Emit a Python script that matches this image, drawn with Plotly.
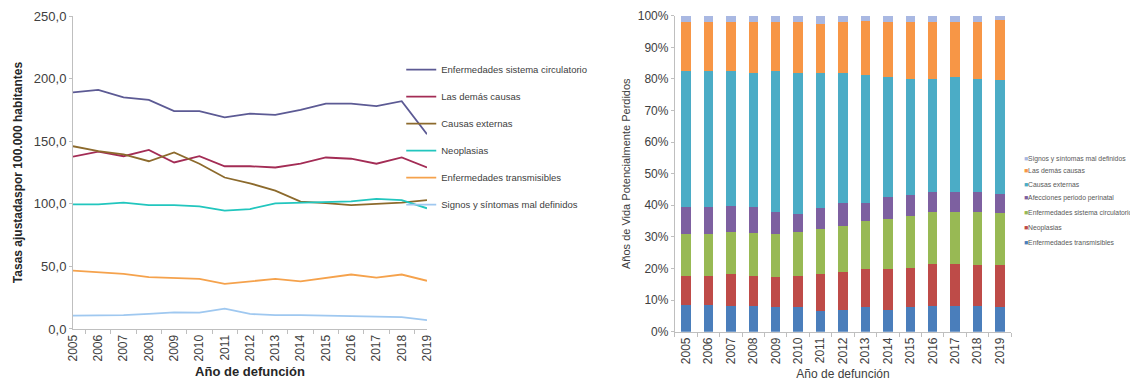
import plotly.graph_objects as go

years = [str(y) for y in range(2005, 2020)]

# Left chart: adjusted rates per 100.000 inhabitants
circulatorio = [189, 191, 185, 183, 174, 174, 169, 172, 171, 175, 180, 180, 178, 182, 155.5]
demas_causas = [137.6, 141.6, 138, 143, 133, 138, 130, 130, 129, 132, 137, 136, 132, 137, 129]
causas_externas = [146, 142, 139.5, 134, 141, 132, 121, 116.4, 110.5, 101.7, 100.5, 99, 100, 101, 103]
neoplasias = [99.5, 99.5, 101, 99, 99, 98, 94.5, 95.8, 100.4, 101, 101.5, 102, 104, 103, 96.4]
transmisibles = [46.6, 45, 44, 41.5, 41, 40, 36, 38, 40, 38, 41, 43.5, 41, 43.5, 38.5]
signos = [10.7, 10.7, 11, 12, 13.3, 13, 16.3, 12, 11, 11, 10.7, 10.3, 10, 9.5, 7]

left_names = ["Enfermedades sistema circulatorio", "Las demás causas", "Causas externas",
              "Neoplasias", "Enfermedades transmisibles", "Signos y síntomas mal definidos"]
left_series = [circulatorio, demas_causas, causas_externas, neoplasias, transmisibles, signos]
left_colors = ["#5c5a94", "#a32c55", "#8c6a2c", "#22c6be", "#f5a24c", "#9fc8f0"]

# Right chart: % of potential years of life lost (stack bottom -> top)
avpp_transmisibles = [8.4, 8.4, 8.2, 8.0, 7.7, 7.7, 6.6, 6.8, 7.7, 6.8, 7.7, 8.0, 8.0, 8.0, 7.7]
avpp_neoplasias = [9.3, 9.3, 10.0, 9.7, 9.7, 10.0, 11.6, 12.0, 12.1, 13.0, 12.6, 13.5, 13.5, 13.2, 13.5]
avpp_circulatorio = [13.2, 13.2, 13.2, 13.4, 13.5, 13.7, 14.3, 14.7, 15.1, 15.8, 16.4, 16.5, 16.5, 16.8, 16.4]
avpp_perinatal = [8.7, 8.7, 8.5, 8.5, 6.9, 6.0, 6.5, 7.1, 5.9, 6.9, 6.6, 6.1, 6.1, 6.1, 6.0]
avpp_externas = [42.9, 42.9, 42.6, 42.3, 44.7, 44.5, 42.9, 41.3, 40.4, 38.0, 36.7, 35.9, 36.6, 35.9, 36.0]
avpp_demas = [15.6, 15.6, 15.6, 16.2, 15.6, 16.2, 15.5, 16.0, 17.1, 17.6, 18.1, 18.1, 17.4, 18.1, 19.0]
avpp_signos = [1.9, 1.9, 1.9, 1.9, 1.9, 1.9, 2.6, 2.1, 1.7, 1.9, 1.9, 1.9, 1.9, 1.9, 1.4]

right_names = ["Enfermedades transmisibles", "Neoplasias", "Enfermedades sistema circulatorio",
               "Afecciones periodo perinatal", "Causas externas", "Las demás causas",
               "Signos y síntomas mal definidos"]
right_series = [avpp_transmisibles, avpp_neoplasias, avpp_circulatorio, avpp_perinatal,
                avpp_externas, avpp_demas, avpp_signos]
right_colors = ["#4a7ebb", "#be4b48", "#98b954", "#7d60a0", "#4bacc6", "#f79646", "#a9b8e2"]

pct_ticks = list(range(0, 101, 10))
pct_labels = [f"{v}%" for v in pct_ticks]

FONT = "Liberation Sans, Arial, sans-serif"
AXIS_GRAY = "#bfbfbf"

# compact key of the right chart (bottom entry first), paper y of each row
key_rows_y = [0.3824, 0.4203, 0.4613, 0.4992, 0.5361, 0.5718, 0.6026]

fig = go.Figure()

for i, (name, vals, col) in enumerate(zip(left_names, left_series, left_colors)):
    fig.add_trace(go.Scatter(
        x=years, y=vals, name=name, mode="lines",
        line=dict(color=col, width=1.8),
        xaxis="x", yaxis="y", legend="legend", legendgroup=f"l{i}",
    ))

for name, vals, col in zip(right_names, right_series, right_colors):
    fig.add_trace(go.Bar(
        x=years, y=vals, name=name, marker=dict(color=col, line=dict(width=0)),
        xaxis="x2", yaxis="y2", showlegend=False,
    ))

annotations = [
    dict(text="<b>Tasas ajustadaspor 100.000 habitantes</b>", xref="paper", yref="paper",
         x=0.00885, y=0.568, textangle=-90, showarrow=False,
         font=dict(size=12, color="#262626"), xanchor="center", yanchor="middle"),
]
for name, col, yk in zip(right_names, right_colors, key_rows_y):
    annotations.append(dict(
        text=f"<span style='color:{col}'>■</span>{name}", xref="paper", yref="paper",
        x=0.8973, y=yk, xanchor="left", yanchor="middle", showarrow=False,
        font=dict(size=6.8, color="#595959"),
    ))

# The page body adds an 8px margin, so the figure is 1130x380.
fig.update_layout(
    width=1130, height=380,
    margin=dict(l=0, r=0, t=0, b=0, autoexpand=False),
    paper_bgcolor="white", plot_bgcolor="white",
    font=dict(family=FONT, color="#404040", size=11),
    separators=",.",
    barmode="stack", barnorm="percent", bargap=0.58,
    xaxis=dict(domain=[0.0575, 0.3708], anchor="y", type="category", showline=True,
               linecolor=AXIS_GRAY, ticks="outside", tickson="boundaries", ticklen=4,
               tickcolor=AXIS_GRAY, tickangle=-90, showgrid=False, automargin=False,
               tickfont=dict(size=12, color="#404040"),
               title=dict(text="<b>Año de defunción</b>", font=dict(size=13, color="#262626"),
                          standoff=6)),
    yaxis=dict(domain=[0.1553, 0.9789], anchor="x", range=[0, 250],
               tickvals=[0, 50, 100, 150, 200, 250], automargin=False,
               tickformat=".1f", showline=True, linecolor=AXIS_GRAY, ticks="outside",
               ticklen=3, tickcolor=AXIS_GRAY, showgrid=False, zeroline=False,
               tickfont=dict(size=13, color="#404040")),
    xaxis2=dict(domain=[0.5901, 0.8878], anchor="y2", type="category", showline=True,
                linecolor=AXIS_GRAY, ticks="outside", tickson="boundaries", ticklen=4,
                tickcolor=AXIS_GRAY, tickangle=-90, showgrid=False, automargin=False,
                tickfont=dict(size=12, color="#404040"),
                title=dict(text="Año de defunción", font=dict(size=12, color="#404040"),
                           standoff=6)),
    yaxis2=dict(domain=[0.1482, 0.9797], anchor="x2", range=[0, 100],
                tickvals=pct_ticks, ticktext=pct_labels, automargin=False,
                showline=True, linecolor=AXIS_GRAY, ticks="outside",
                ticklen=3, tickcolor=AXIS_GRAY, showgrid=False, zeroline=False,
                tickfont=dict(size=12, color="#404040"),
                title=dict(text="Años de Vida Potencialmente Perdidos",
                           font=dict(size=11, color="#404040"), standoff=4)),
    legend=dict(x=0.348, y=0.876, xanchor="left", yanchor="top", traceorder="grouped",
                tracegroupgap=8, font=dict(size=9.5, color="#404040"), itemwidth=30,
                bgcolor="rgba(0,0,0,0)"),
    annotations=annotations,
)

fig.write_html("out.html")
